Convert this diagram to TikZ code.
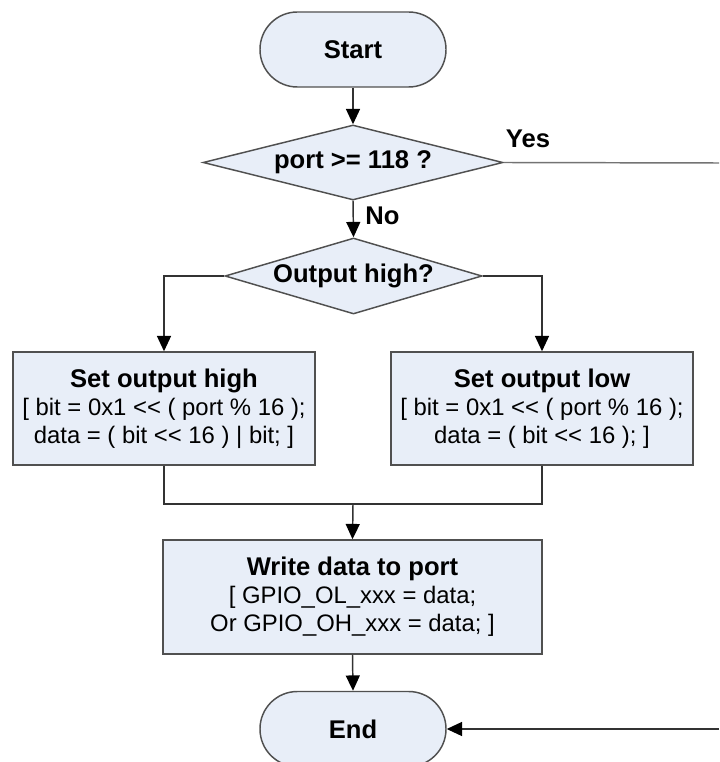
\documentclass[tikz,border=0pt]{standalone}
\usepackage{fontspec}
\setmainfont{Liberation Sans}
\usetikzlibrary{shapes.geometric,arrows.meta}
\definecolor{boxfill}{RGB}{232,238,248}
\definecolor{edgegray}{RGB}{80,80,80}
\definecolor{linegray}{RGB}{50,50,50}
\definecolor{yesgray}{RGB}{115,115,115}
\newcommand{\ttl}[1]{{\bfseries\fontsize{19.2}{21}\selectfont #1}}
\tikzset{
  base/.style={draw=edgegray, line width=1.1pt, fill=boxfill, inner sep=0pt,
    align=center, font=\fontsize{17.9}{21}\selectfont},
  terminal/.style={base, rounded corners=28pt, minimum height=56.25pt, minimum width=139.5pt},
  decision/.style={base, diamond, aspect=4},
  procbox/.style={base, rectangle, minimum height=84.75pt, minimum width=226.5pt},
  flow/.style={draw=linegray, line width=1.1pt, -{Triangle[length=11.5pt,width=10.5pt,color=black]}},
  plain/.style={draw=linegray, line width=1.1pt},
  lbl/.style={font=\bfseries\fontsize{19.2}{21}\selectfont, inner sep=0pt}
}
\begin{document}
\begin{tikzpicture}[x=0.75pt,y=-0.75pt]
\useasboundingbox (0,0) rectangle (719,762);

% terminals
\node[terminal] (start) at (353,49.5) {\ttl{Start}};
\node[terminal] (finish) at (353,729) {\ttl{End}};

% decisions
\node[decision, minimum width=225pt, minimum height=56.25pt] (portchk) at (353,162.5) {\ttl{port >= 118 ?}};
\node[decision, minimum width=192.75pt, minimum height=57pt] (outhigh) at (353.5,276) {\ttl{Output high?}};

% process boxes
\node[procbox] (sethigh) at (164,408.5)
  {\ttl{Set output high}\\{[} bit = 0x1 <{}< ( port \% 16 );\\data = ( bit <{}< 16 ) | bit; ]};
\node[procbox] (setlow) at (542,408.5)
  {\ttl{Set output low}\\{[} bit = 0x1 <{}< ( port \% 16 );\\data = ( bit <{}< 16 ); ]};
\node[procbox, minimum width=284.25pt, minimum height=85.5pt] (writeport) at (352.5,597)
  {\ttl{Write data to port}\\{[} GPIO\_OL\_xxx = data;\\Or GPIO\_OH\_xxx = data; ]};

% junction and off-page ends of the bypass path
\coordinate (merge) at (353,504);
\coordinate (yesout) at (719,163);
\coordinate (yesin) at (719,729);

% connectors
\draw[flow] (start) -- (portchk.north);
\draw[draw=yesgray, line width=1.1pt] (portchk.east) -- (yesout);
\node[lbl] (yeslbl) at (528,139) {Yes};
\draw[flow] (portchk.south) -- (outhigh.north);
\node[lbl] (nolbl) at (382.5,216) {No};
\draw[flow] (outhigh.west) -| (sethigh.north);
\draw[flow] (outhigh.east) -| (setlow.north);
\draw[plain] (sethigh.south) |- (merge);
\draw[plain] (setlow.south) |- (merge);
\draw[flow] (merge) -- (writeport.north);
\draw[flow] (writeport.south) -- (finish.north);
\draw[flow] (yesin) -- (finish.east);
\end{tikzpicture}
\end{document}
